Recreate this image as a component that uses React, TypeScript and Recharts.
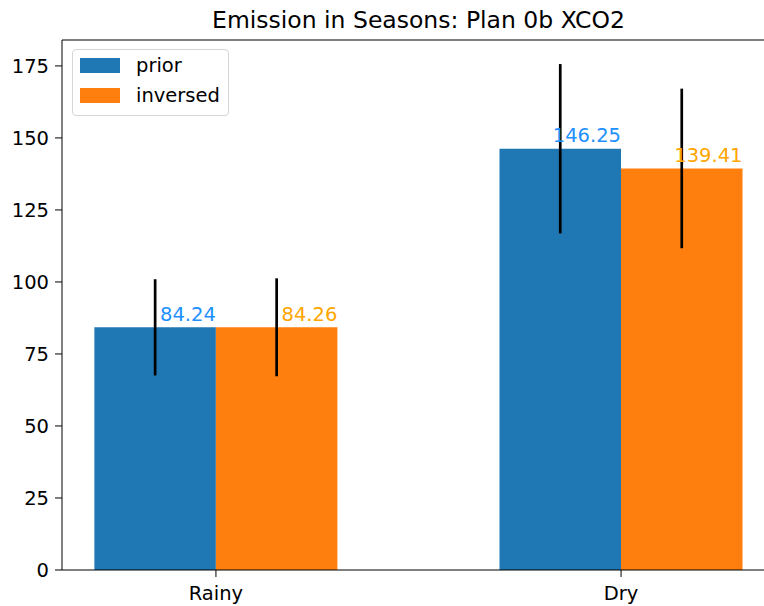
import { BarChart, Bar, XAxis, YAxis, ErrorBar, LabelList, Legend, ReferenceLine } from 'recharts';

// Seasonal emission, plan 0b XCO2
const seasons = ['Rainy', 'Dry'];
const priorValues = [84.24, 146.25];
const inversedValues = [84.26, 139.41];
const priorErrors = [16.7, 29.4];
const inversedErrors = [17.0, 27.7];
const yTicks = [0, 25, 50, 75, 100, 125, 150, 175];

const data = seasons.map((season, i) => ({
  idx: i,
  season,
  prior: priorValues[i],
  inversed: inversedValues[i],
  priorErr: priorErrors[i],
  inversedErr: inversedErrors[i],
}));

const FONT = '"DejaVu Sans", sans-serif';
const BLUE = '#1f77b4';
const ORANGE = '#ff7f0e';

// value text sits right-aligned on the bar's right edge, just above it
function valueLabel(color: string) {
  return (props: any) => {
    const { x, y, width, value } = props;
    return (
      <text x={x + width} y={y - 6.5} textAnchor="end" fill={color} fontSize={19.5} fontFamily={FONT}>
        {Number(value).toFixed(2)}
      </text>
    );
  };
}

function LegendBox() {
  const rows = [
    { name: 'prior', color: BLUE },
    { name: 'inversed', color: ORANGE },
  ];
  return (
    <div
      style={{
        width: 155,
        height: 65,
        border: '1px solid #d6d6d6',
        borderRadius: 4,
        background: 'rgba(255,255,255,0.8)',
        fontFamily: FONT,
        fontSize: 19.5,
        color: '#000',
        position: 'relative',
      }}
    >
      {rows.map((r, i) => (
        <div key={r.name} style={{ position: 'absolute', left: 7, top: 8 + i * 30, height: 15, display: 'flex', alignItems: 'center' }}>
          <div style={{ width: 40, height: 15, background: r.color }} />
          <span style={{ marginLeft: 16, lineHeight: '15px' }}>{r.name}</span>
        </div>
      ))}
    </div>
  );
}

export default function App() {
  return (
    <div style={{ position: 'absolute', left: 0, top: 0, width: 764, height: 606, overflow: 'hidden', background: '#fff' }}>
      <div
        style={{
          position: 'absolute',
          left: 62,
          top: 8,
          width: 713,
          textAlign: 'center',
          fontFamily: FONT,
          fontSize: 23.5,
          lineHeight: '24px',
          color: '#000',
          zIndex: 2,
        }}
      >
        Emission in Seasons: Plan 0b XCO2
      </div>
      <BarChart width={775} height={606} data={data} margin={{ top: 40, right: 0, bottom: 0, left: 0 }} barGap={0}>
        <XAxis
          dataKey="idx"
          type="number"
          domain={[-0.38, 1.38]}
          ticks={[0, 1]}
          tickFormatter={(v: number) => seasons[v] ?? ''}
          height={36}
          tickSize={7}
          tickMargin={9}
          stroke="#000"
          tick={{ fill: '#000', fontSize: 19.5, fontFamily: FONT }}
          allowDataOverflow
        />
        <YAxis
          domain={[0, 184]}
          ticks={yTicks}
          width={62}
          tickSize={7}
          tickMargin={6}
          stroke="#000"
          tick={{ fill: '#000', fontSize: 19.5, fontFamily: FONT }}
          allowDataOverflow
        />
        <ReferenceLine y={184} stroke="#000" strokeWidth={1.2} ifOverflow="visible" />
        <Legend
          layout="vertical"
          align="center"
          verticalAlign="middle"
          wrapperStyle={{ position: 'absolute', left: 72, top: 49, width: 'auto', height: 'auto' }}
          content={() => <LegendBox />}
        />
        <Bar dataKey="prior" name="prior" fill={BLUE} barSize={121.5} isAnimationActive={false}>
          <ErrorBar dataKey="priorErr" direction="y" width={0} stroke="#000" strokeWidth={2.7} />
          <LabelList dataKey="prior" content={valueLabel('#1e90ff')} />
        </Bar>
        <Bar dataKey="inversed" name="inversed" fill={ORANGE} barSize={121.5} isAnimationActive={false}>
          <ErrorBar dataKey="inversedErr" direction="y" width={0} stroke="#000" strokeWidth={2.7} />
          <LabelList dataKey="inversed" content={valueLabel('#ffa500')} />
        </Bar>
      </BarChart>
    </div>
  );
}
